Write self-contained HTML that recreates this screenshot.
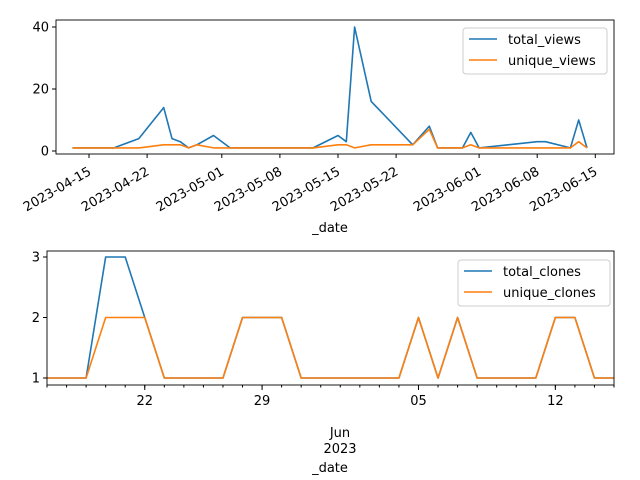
<!DOCTYPE html>
<html><head><meta charset="utf-8"><style>
body{margin:0;background:#fff}
svg{display:block;font-family:"DejaVu Sans","Liberation Sans",sans-serif}
</style></head><body>
<svg id="c" width="640" height="480" viewBox="0 0 640 480"></svg>
<script>
// Top chart data (day offset from 2023-04-15)
const viewDays = [-2,3,6,9,10,11,12,13,15,17,27,30,31,32,34,39,41,42,45,46,47,54,55,58,59,60];
const totalViews = [1,1,4,14,4,3,1,2,5,1,1,5,3,40,16,2,8,1,1,6,1,3,3,1,10,1];
const uniqueViews = [1,1,1,2,2,2,1,2,1,1,1,2,2,1,2,2,7,1,1,2,1,1,1,1,3,1];
const viewTickDays = [0,7,16,23,30,37,47,54,61];
const viewTickLabels = ["2023-04-15","2023-04-22","2023-05-01","2023-05-08","2023-05-15","2023-05-22","2023-06-01","2023-06-08","2023-06-15"];
const viewYTicks = [0,20,40];
// Bottom chart data (index positions)
const totalClones = [1,1,1,3,3,2,1,1,1,1,2,2,2,1,1,1,1,1,1,2,1,2,1,1,1,1,2,2,1,1];
const uniqueClones = [1,1,1,2,2,2,1,1,1,1,2,2,2,1,1,1,1,1,1,2,1,2,1,1,1,1,2,2,1,1];
const cloneTickIdx = [5,11,19,26];
const cloneTickLabels = ["22","29","05","12"];
const cloneYTicks = [1,2,3];

const svg=document.getElementById('c');
const NS='http://www.w3.org/2000/svg';
function mk(t,a,p){const e=document.createElementNS(NS,t);for(const k in a)e.setAttribute(k,a[k]);(p||svg).appendChild(e);return e;}
function txt(x,y,s,a,p){const e=mk('text',Object.assign({x:x,y:y,'font-size':13,fill:'#000'},a||{}),p);e.textContent=s;return e;}

// top axes
const tx=d=>89+d*8.3, ty=v=>151-v*3.1;
let g=mk('g',{});


function line(xs,ys,fx,fy,color,name,parent){
  const p=mk('polyline',{points:xs.map((x,i)=>fx(x)+','+fy(ys[i])).join(' '),fill:'none',stroke:color,'stroke-width':1.6,'stroke-linejoin':'round'},parent);
  
  
}
line(viewDays,totalViews,tx,ty,'#1f77b4','total-views-line',g);
line(viewDays,uniqueViews,tx,ty,'#ff7f0e','unique-views-line',g);
let r=mk('rect',{x:56,y:20,width:558,height:134,fill:'none',stroke:'#000','stroke-width':0.9});


viewYTicks.forEach(v=>{mk('line',{x1:52,x2:56,y1:ty(v),y2:ty(v),stroke:'#000'});const t=txt(49,ty(v)+4.5,String(v),{'text-anchor':'end'});});
viewTickDays.forEach((d,i)=>{const x=tx(d);mk('line',{x1:x,x2:x,y1:154,y2:158,stroke:'#000'});
  const t=txt(0,0,viewTickLabels[i],{'text-anchor':'end',transform:`translate(${x+3},${174}) rotate(-30)`});
  });
let xl=txt(330,232,'_date',{'text-anchor':'middle'});

// legend top
let lg=mk('g',{});

mk('rect',{x:463,y:28,width:144,height:46,rx:3,fill:'#fff','fill-opacity':0.8,stroke:'#ccc'},lg);
mk('line',{x1:469,x2:497,y1:39,y2:39,stroke:'#1f77b4','stroke-width':1.6},lg);
txt(508,44,'total_views',{},lg);
mk('line',{x1:469,x2:497,y1:60,y2:60,stroke:'#ff7f0e','stroke-width':1.6},lg);
txt(508,65,'unique_views',{},lg);

// bottom axes
const bx=i=>47+i*(567/29), by=v=>378-(v-1)*60.5;
let g2=mk('g',{});

const idx=totalClones.map((_,i)=>i);
line(idx,totalClones,bx,by,'#1f77b4','total-clones-line',g2);
line(idx,uniqueClones,bx,by,'#ff7f0e','unique-clones-line',g2);
let r2=mk('rect',{x:47,y:251,width:567,height:134,fill:'none',stroke:'#000','stroke-width':0.9});

cloneYTicks.forEach(v=>{mk('line',{x1:43,x2:47,y1:by(v),y2:by(v),stroke:'#000'});const t=txt(40,by(v)+4.5,String(v),{'text-anchor':'end'});});
idx.forEach(i=>mk('line',{x1:bx(i),x2:bx(i),y1:385,y2:387.5,stroke:'#000'}));
cloneTickIdx.forEach((i,k)=>{mk('line',{x1:bx(i),x2:bx(i),y1:385,y2:390,stroke:'#000'});
  const t=txt(bx(i),405,cloneTickLabels[k],{'text-anchor':'middle'});});
let jm=txt(340,437,'Jun',{'text-anchor':'middle'});
let jy=txt(340,453,'2023',{'text-anchor':'middle'});
let xl2=txt(330,472,'_date',{'text-anchor':'middle'});

let lg2=mk('g',{});

mk('rect',{x:458,y:260,width:152,height:46,rx:3,fill:'#fff','fill-opacity':0.8,stroke:'#ccc'},lg2);
mk('line',{x1:464,x2:492,y1:271,y2:271,stroke:'#1f77b4','stroke-width':1.6},lg2);
txt(503,276,'total_clones',{},lg2);
mk('line',{x1:464,x2:492,y1:292,y2:292,stroke:'#ff7f0e','stroke-width':1.6},lg2);
txt(503,297,'unique_clones',{},lg2);
</script>
</body></html>
